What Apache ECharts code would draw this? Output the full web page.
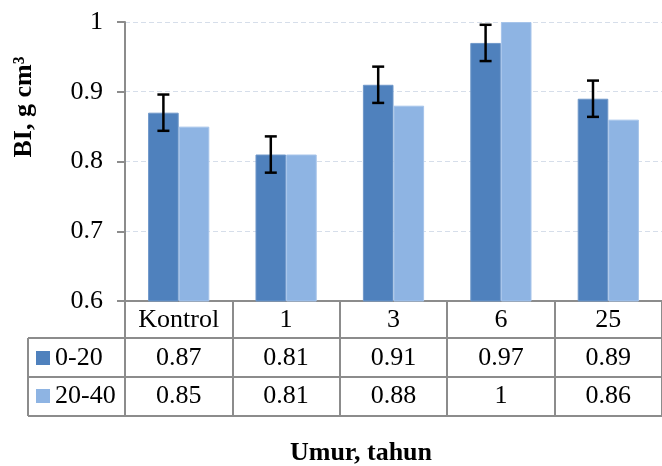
<!DOCTYPE html>
<html>
<head>
<meta charset="utf-8">
<script src="https://cdn.jsdelivr.net/npm/echarts@6/dist/echarts.min.js"></script>
<style>
  html, body { margin: 0; padding: 0; background: #ffffff; }
  #chart { width: 662px; height: 466px; }
</style>
</head>
<body>
<div id="chart"></div>
<script>
// Bulk density by plantation age, two soil depths
const categories = ['Kontrol', '1', '3', '6', '25'];
const seriesNames = ['0-20', '20-40'];
const depth0to20 = [0.87, 0.81, 0.91, 0.97, 0.89];
const depth20to40 = [0.85, 0.81, 0.88, 1, 0.86];
const error0to20 = [0.026, 0.026, 0.026, 0.026, 0.026];
const yTicks = { min: 0.6, max: 1, interval: 0.1 };
const yTitle = 'BI, g cm³';
const xTitle = 'Umur, tahun';

const FONT = '"Liberation Serif", "Times New Roman", serif';
const DARK = '#4F81BD';
const LIGHT = '#8EB4E3';
const LINE = '#8C8C8C';
const GAP = 0.43;

const chart = echarts.init(document.getElementById('chart'), null, { renderer: 'canvas' });

const option = {
  backgroundColor: '#ffffff',
  animation: false,
  grid: { left: 125, top: 22, width: 546, height: 279, containLabel: false },
  xAxis: {
    type: 'category',
    data: categories,
    axisLine: { show: true, lineStyle: { color: LINE, width: 2 } },
    axisTick: { show: true, length: 115, lineStyle: { color: LINE, width: 2 } },
    axisLabel: { show: false },
    splitLine: { show: false }
  },
  yAxis: {
    type: 'value',
    min: yTicks.min,
    max: yTicks.max,
    interval: yTicks.interval,
    axisLine: { show: true, lineStyle: { color: LINE, width: 2 } },
    axisTick: { show: true, length: 8, lineStyle: { color: LINE, width: 2 } },
    axisLabel: { color: '#000', fontFamily: FONT, fontSize: 26, margin: 22 },
    splitLine: { show: true, lineStyle: { color: '#D6DEEA', type: [5, 3], width: 1 } }
  },
  series: [
    {
      name: seriesNames[0], type: 'bar', data: depth0to20,
      barGap: '0%', barCategoryGap: (GAP * 100) + '%',
      itemStyle: { color: DARK, borderColor: '#6F97C9', borderWidth: 1 }
    },
    {
      name: seriesNames[1], type: 'bar', data: depth20to40,
      barGap: '0%', barCategoryGap: (GAP * 100) + '%',
      itemStyle: { color: LIGHT, borderColor: '#A6C4EA', borderWidth: 1 }
    },
    {
      name: 'err', type: 'custom', z: 10,
      data: depth0to20.map((v, i) => [i, v, error0to20[i]]),
      renderItem: function (params, api) {
        const idx = api.value(0);
        const v = api.value(1);
        const e = api.value(2);
        const band = api.size([1, 0])[0];
        const barW = band * (1 - GAP) / 2;
        const hi = api.coord([idx, v + e]);
        const lo = api.coord([idx, v - e]);
        const x = hi[0] - barW / 2;
        const cap = 6;
        const st = { stroke: '#000', lineWidth: 2.5 };
        return {
          type: 'group',
          children: [
            { type: 'line', shape: { x1: x, y1: hi[1], x2: x, y2: lo[1] }, style: st },
            { type: 'line', shape: { x1: x - cap, y1: hi[1], x2: x + cap, y2: hi[1] }, style: st },
            { type: 'line', shape: { x1: x - cap, y1: lo[1], x2: x + cap, y2: lo[1] }, style: st }
          ]
        };
      }
    }
  ]
};

chart.setOption(option);

// Data table under the plot, positioned from the axis scales
function buildTable() {
  const yBase = chart.convertToPixel({ yAxisIndex: 0 }, yTicks.min);
  const gridRight = chart.convertToPixel({ xAxisIndex: 0 }, categories[categories.length - 1]) +
    (chart.convertToPixel({ xAxisIndex: 0 }, categories[1]) - chart.convertToPixel({ xAxisIndex: 0 }, categories[0])) / 2;
  const tableLeft = 28;
  const rows = [yBase + 37, yBase + 76, yBase + 115];
  const lineStyle = { stroke: LINE, lineWidth: 2 };
  const els = [];

  rows.forEach(y => {
    els.push({ type: 'line', shape: { x1: tableLeft, y1: y, x2: gridRight, y2: y }, style: lineStyle, z: 5 });
  });
  els.push({ type: 'line', shape: { x1: tableLeft, y1: rows[0], x2: tableLeft, y2: rows[2] }, style: lineStyle, z: 5 });

  const textStyle = (t, x, y, align) => ({
    type: 'text', x: x, y: y, z: 6,
    style: { text: t, fill: '#000', font: '26px ' + FONT, align: align || 'center', verticalAlign: 'middle' }
  });

  const headerY = yBase + 19;
  const rowY = [yBase + 57, yBase + 95];
  categories.forEach((c, i) => {
    const cx = chart.convertToPixel({ xAxisIndex: 0 }, c);
    els.push(textStyle(c, cx, headerY));
    els.push(textStyle(String(depth0to20[i]), cx, rowY[0]));
    els.push(textStyle(String(depth20to40[i]), cx, rowY[1]));
  });

  [DARK, LIGHT].forEach((col, k) => {
    els.push({ type: 'rect', shape: { x: 36, y: rowY[k] - 7, width: 14, height: 14 }, style: { fill: col }, z: 6 });
    els.push(textStyle(seriesNames[k], 55, rowY[k], 'left'));
  });

  // Axis titles
  els.push({
    type: 'text', x: 24, y: 107, rotation: Math.PI / 2, z: 6,
    style: { text: yTitle, fill: '#000', font: 'bold 26px ' + FONT, align: 'center', verticalAlign: 'middle' }
  });
  els.push({
    type: 'text', x: 361, y: 453, z: 6,
    style: { text: xTitle, fill: '#000', font: 'bold 26px ' + FONT, align: 'center', verticalAlign: 'middle' }
  });

  chart.setOption({ graphic: els });
}

buildTable();
</script>
</body>
</html>
